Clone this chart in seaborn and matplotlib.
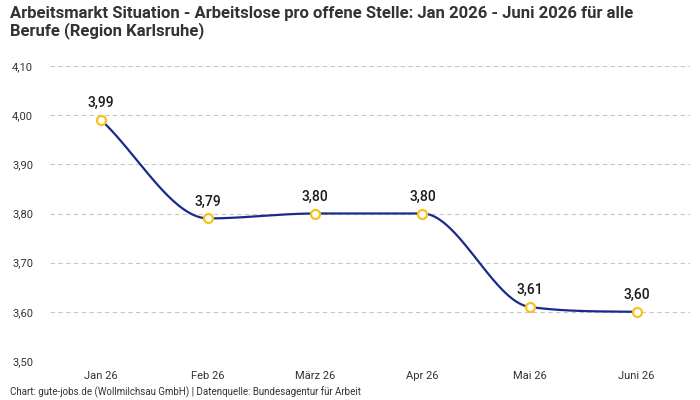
"""Arbeitsmarkt Karlsruhe: Arbeitslose pro offene Stelle, Jan - Juni 2026."""

import numpy as np
import pandas as pd
import matplotlib
matplotlib.use("Agg")
import matplotlib.pyplot as plt
import seaborn as sns

MONTHS = ["Jan 26", "Feb 26", "März 26", "Apr 26", "Mai 26", "Juni 26"]
RATIO  = [3.99, 3.79, 3.80, 3.80, 3.61, 3.60]
Y_TICKS = [3.50, 3.60, 3.70, 3.80, 3.90, 4.00, 4.10]

TITLE  = ("Arbeitsmarkt Situation - Arbeitslose pro offene Stelle: Jan 2026 - Juni 2026 für alle\n"
          "Berufe (Region Karlsruhe)")
SOURCE = "Chart: gute-jobs.de (Wollmilchsau GmbH) | Datenquelle: Bundesagentur für Arbeit"

LINE_COLOR   = "#1b2a8a"
MARKER_COLOR = "#f7c21b"


def monotone_curve(y, steps=40):
    """Monotone cubic (Fritsch-Carlson) path through the points, like Chart.js 'monotone'."""
    y = np.asarray(y, dtype=float)
    n = len(y)
    d = np.diff(y)
    m = np.zeros(n)
    m[0], m[-1] = d[0], d[-1]
    for i in range(1, n - 1):
        if np.sign(d[i - 1]) != np.sign(d[i]):
            m[i] = 0.0
        else:
            m[i] = (d[i - 1] + d[i]) / 2
    for i in range(n - 1):
        if d[i] == 0:
            m[i] = m[i + 1] = 0.0
            continue
        a, b = m[i] / d[i], m[i + 1] / d[i]
        s = a * a + b * b
        if s > 9:
            t = 3 / np.sqrt(s)
            m[i], m[i + 1] = t * a * d[i], t * b * d[i]
    xs, ys = [], []
    for i in range(n - 1):
        t = np.linspace(0, 1, steps, endpoint=(i == n - 2))
        h00 = 2 * t**3 - 3 * t**2 + 1
        h10 = t**3 - 2 * t**2 + t
        h01 = -2 * t**3 + 3 * t**2
        h11 = t**3 - t**2
        xs.append(i + t)
        ys.append(h00 * y[i] + h10 * m[i] + h01 * y[i + 1] + h11 * m[i + 1])
    return np.concatenate(xs), np.concatenate(ys)


sns.set_style("white")
plt.rcParams["font.family"] = ["Roboto", "DejaVu Sans"]

df = pd.DataFrame({"idx": range(len(MONTHS)), "month": MONTHS, "ratio": RATIO})

fig = plt.figure(figsize=(7, 4), dpi=100)
ax = fig.add_axes([0.071, 0.0975, 0.915, 0.7375])

cx, cy = monotone_curve(df["ratio"])
ax.plot(cx, cy, color=LINE_COLOR, lw=1.6, zorder=2)
sns.scatterplot(data=df, x="idx", y="ratio", s=42, color="white",
                edgecolor=MARKER_COLOR, linewidth=1.6, zorder=3, ax=ax)

for _, row in df.iterrows():
    ax.annotate(f"{row['ratio']:.2f}".replace(".", ","), (row["idx"], row["ratio"]),
                xytext=(0, 7), textcoords="offset points", ha="center", va="bottom",
                fontsize=10, fontweight="medium", color="#1a1a1a")

ax.set_xlim(-0.48, 5.5)
ax.set_ylim(3.50, 4.10)
ax.set_yticks(Y_TICKS)
ax.set_yticklabels([f"{v:.2f}".replace(".", ",") for v in Y_TICKS])
ax.set_xticks(df["idx"])
ax.set_xticklabels(MONTHS)
ax.tick_params(axis="both", length=0, labelsize=8, colors="#333333")
ax.tick_params(axis="y", pad=12)
ax.tick_params(axis="x", pad=7)
ax.yaxis.grid(True, linestyle=(0, (4, 3)), color="#c8c8c8", lw=0.8)
ax.set_xlabel("")
ax.set_ylabel("")
for sp in ax.spines.values():
    sp.set_visible(False)

fig.text(0.014, 0.985, TITLE, ha="left", va="top", fontsize=12,
         fontweight="bold", color="#333333", linespacing=1.1)
fig.text(0.014, 0.004, SOURCE, ha="left", va="bottom", fontsize=7, color="#333333")

fig.savefig("out.png", dpi=100)
